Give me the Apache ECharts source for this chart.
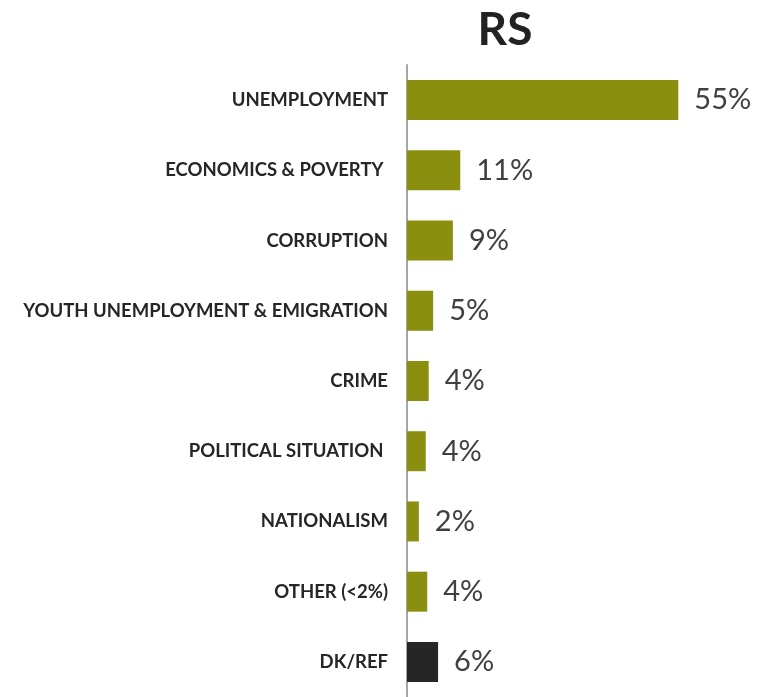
<!DOCTYPE html>
<html>
<head>
<meta charset="utf-8">
<script src="https://cdn.jsdelivr.net/npm/echarts@6/dist/echarts.min.js"></script>
<style>html,body{margin:0;padding:0;background:#fff;}#c{width:757px;height:697px;}</style>
</head>
<body>
<div id="c"></div>
<script>
const categories = ["UNEMPLOYMENT", "ECONOMICS & POVERTY ", "CORRUPTION", "YOUTH UNEMPLOYMENT & EMIGRATION", "CRIME", "POLITICAL SITUATION ", "NATIONALISM", "OTHER (<2%)", "DK/REF"];
const values = [55, 10.8, 9.3, 5.3, 4.4, 3.8, 2.4, 4.1, 6.3];
const barColors = ["#8A8F10", "#8A8F10", "#8A8F10", "#8A8F10", "#8A8F10", "#8A8F10", "#8A8F10", "#8A8F10", "#262626"];
const titleText = "RS";

const chart = echarts.init(document.getElementById('c'), null, {renderer: 'canvas'});
chart.setOption({
  animation: false,
  title: {
    text: titleText, left: 500, top: 2, textAlign: 'center',
    textStyle: {fontFamily: 'Lato', fontWeight: 'bold', fontSize: 46, color: '#222222'}
  },
  grid: {left: 407, top: 65, width: 296, height: 637, containLabel: false},
  xAxis: {type: 'value', min: 0, max: 60, show: false},
  yAxis: {
    type: 'category', data: categories, inverse: true,
    axisLine: {show: true, lineStyle: {color: '#A6A6A6', width: 2}},
    axisTick: {show: false},
    axisLabel: {margin: 19, fontFamily: 'Lato', fontWeight: 'bold', fontSize: 18.5, color: '#262626'}
  },
  series: [{
    type: 'bar', barWidth: 40,
    data: values.map((v, i) => ({value: v, itemStyle: {color: barColors[i]}})),
    label: {
      show: true, position: 'right', distance: 16,
      formatter: p => Math.round(p.value) + '%',
      fontFamily: 'Lato', fontSize: 29, color: '#404040'
    }
  }]
});
</script>
</body>
</html>
